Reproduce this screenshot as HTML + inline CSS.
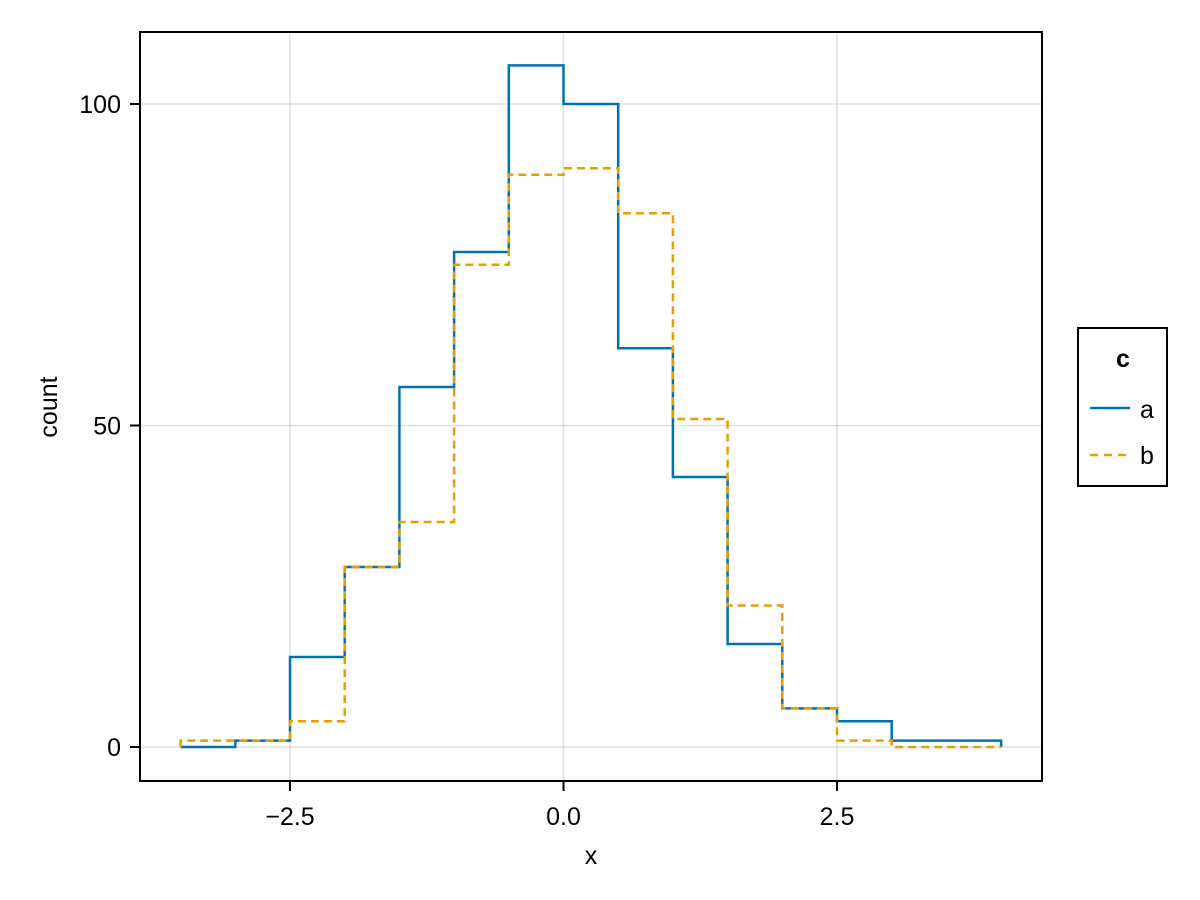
<!DOCTYPE html>
<html><head><meta charset="utf-8"><style>body{margin:0;background:#fff}svg{display:block}</style></head><body>
<svg width="1200" height="900" viewBox="0 0 1200 900" font-family="Liberation Sans, sans-serif">
<rect width="1200" height="900" fill="#fff"/>
<g stroke="#000" stroke-opacity="0.12" stroke-width="1.5">
<line x1="290" y1="32" x2="290" y2="781"/><line x1="563.5" y1="32" x2="563.5" y2="781"/><line x1="837" y1="32" x2="837" y2="781"/>
<line x1="140" y1="747" x2="1042" y2="747"/><line x1="140" y1="425.5" x2="1042" y2="425.5"/><line x1="140" y1="104" x2="1042" y2="104"/>
</g>
<path fill="none" stroke="#0072b2" stroke-width="2.5" d="M180.6,747 H235.3 V740.6 H290 V657 H344.7 V567 H399.4 V387 H454.1 V252 H508.8 V65.4 H563.5 V104 H618.2 V348.3 H672.9 V477 H727.6 V644 H782.3 V708.4 H837 V721.3 H891.7 V740.6 H1001.1 V747"/>
<path fill="none" stroke="#e69f00" stroke-width="2.5" stroke-dasharray="8,5" d="M180.6,747 V740.6 H290 V721.3 H344.7 V567 H399.4 V522 H454.1 V264.8 H508.8 V174.7 H563.5 V168.3 H618.2 V213.3 H672.9 V419 H727.6 V605.5 H782.3 V708.4 H837 V740.6 H891.7 V747 H1001.1"/>
<rect x="140" y="32" width="902" height="749" fill="none" stroke="#000" stroke-width="2"/>
<g stroke="#000" stroke-width="2">
<line x1="290" y1="781" x2="290" y2="791"/><line x1="563.5" y1="781" x2="563.5" y2="791"/><line x1="837" y1="781" x2="837" y2="791"/>
<line x1="130" y1="747" x2="140" y2="747"/><line x1="130" y1="425.5" x2="140" y2="425.5"/><line x1="130" y1="104" x2="140" y2="104"/>
</g>
<g font-size="25" fill="#000">
<text x="290" y="825" text-anchor="middle">−2.5</text>
<text x="563.5" y="825" text-anchor="middle">0.0</text>
<text x="837" y="825" text-anchor="middle">2.5</text>
<text x="121" y="756" text-anchor="end">0</text>
<text x="121" y="434.5" text-anchor="end">50</text>
<text x="121" y="113" text-anchor="end">100</text>
<text x="591" y="864" text-anchor="middle">x</text>
<text transform="translate(57,407) rotate(-90)" text-anchor="middle">count</text>
</g>
<rect x="1078" y="328" width="89" height="158" fill="#fff" stroke="#000" stroke-width="2"/>
<text x="1123" y="367" text-anchor="middle" font-size="25" font-weight="bold">c</text>
<line x1="1090" y1="408" x2="1130" y2="408" stroke="#0072b2" stroke-width="2.5"/>
<line x1="1090" y1="455" x2="1130" y2="455" stroke="#e69f00" stroke-width="2.5" stroke-dasharray="8,6"/>
<text x="1140" y="418" font-size="25">a</text>
<text x="1140" y="464" font-size="25">b</text>
</svg>
</body></html>
